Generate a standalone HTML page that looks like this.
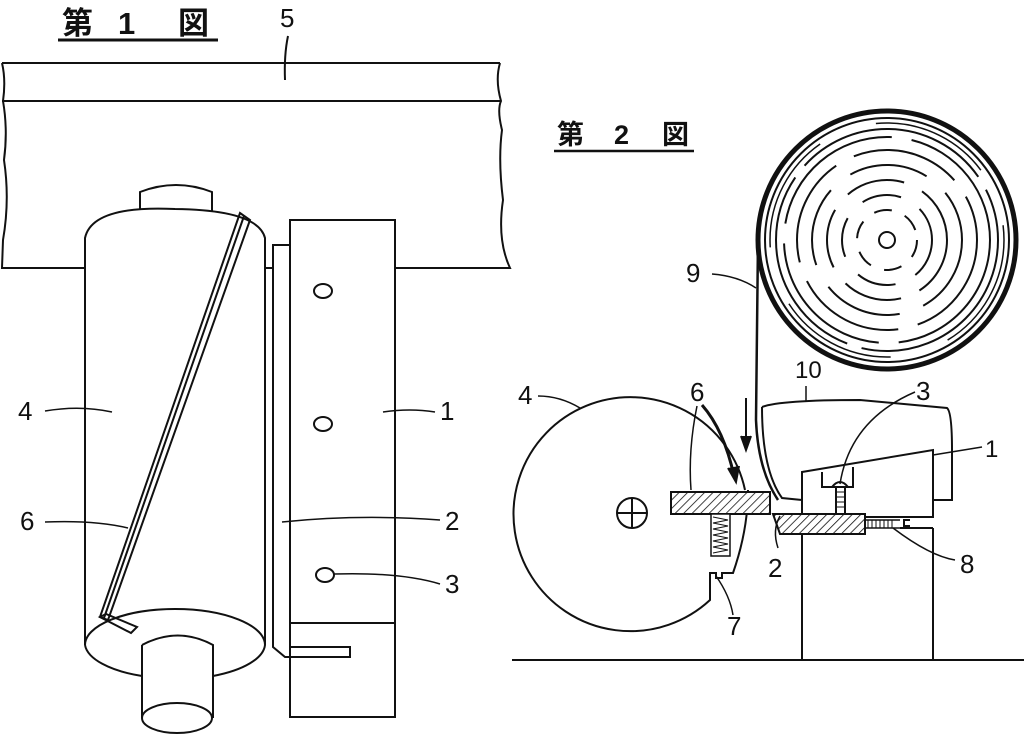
<!DOCTYPE html>
<html><head><meta charset="utf-8"><style>
html,body{margin:0;padding:0;background:#fff;}
svg{display:block;}
text{font-family:"Liberation Sans","Noto Sans CJK JP",sans-serif;fill:#111;}
</style></head><body>
<svg width="1024" height="735" viewBox="0 0 1024 735" xmlns="http://www.w3.org/2000/svg">
<defs>
<pattern id="h" width="6" height="6" patternUnits="userSpaceOnUse" patternTransform="rotate(45)">
<rect width="6" height="6" fill="#fff"/><line x1="0" y1="0" x2="0" y2="6" stroke="#111" stroke-width="1.6"/></pattern>
</defs>
<g fill="none" stroke="#111" stroke-width="2">
<!-- Fig 1 title -->
<text x="62" y="34" font-size="31" font-weight="bold" stroke="none">第</text>
<text x="118" y="34" font-size="31" font-weight="bold" stroke="none">1</text>
<text x="178" y="34" font-size="31" font-weight="bold" stroke="none">図</text>
<line x1="58" y1="40" x2="218" y2="40" stroke-width="3"/>
<text x="280" y="27" font-size="26" stroke="none">5</text>
<path d="M288 36 Q284 55 285 80"/>
<!-- beam -->
<path d="M2 63 H500 M2 101 H500"/>
<path d="M2 63 Q6 80 3 101 Q8 130 4 160 Q10 200 3 240 L2 268 H86 M265 268 H273 M395 268 H510 Q497 240 503 200 Q498 160 502 130 Q497 110 501 101 Q495 80 500 63"/>
<!-- cylinder -->
<path d="M140 210 V192 Q176 178 212 192 V212"/>
<path d="M85 645 V238 Q92 205 175 209 Q258 210 265 238 V645"/>
<path d="M85 645 A90 36 0 0 1 265 645 A90 36 0 0 1 213 676 M142 676 A90 36 0 0 1 85 645"/>
<path d="M142 645 Q178 626 213 645 V718 M142 645 V718"/>
<ellipse cx="177" cy="718" rx="35" ry="15"/>
<!-- strip 6 -->
<path d="M100 617 L240 213 L250 220 L108 620 Z M104 618 L244 216"/>
<path d="M100 617 L106 614 L137 627 L131 633 Z"/>
<!-- plate 2 -->
<path d="M290 245 H273 V647 L285 657 H350 V647 H290"/>
<!-- block 1 -->
<rect x="290" y="220" width="105" height="497"/>
<line x1="290" y1="623" x2="395" y2="623"/>
<ellipse cx="323" cy="291" rx="9" ry="7"/>
<ellipse cx="323" cy="424" rx="9" ry="7"/>
<ellipse cx="325" cy="575" rx="9" ry="7"/>
<!-- labels fig1 -->
<text x="18" y="420" font-size="26" stroke="none">4</text>
<path d="M45 411 Q80 405 112 412" stroke-width="1.5"/>
<text x="20" y="530" font-size="26" stroke="none">6</text>
<path d="M45 522 Q95 520 128 528" stroke-width="1.5"/>
<text x="440" y="420" font-size="26" stroke="none">1</text>
<path d="M383 412 Q410 408 435 412" stroke-width="1.5"/>
<text x="445" y="530" font-size="26" stroke="none">2</text>
<path d="M282 522 Q360 514 440 520" stroke-width="1.5"/>
<text x="445" y="593" font-size="26" stroke="none">3</text>
<path d="M334 574 Q400 572 440 584" stroke-width="1.5"/>

<!-- Fig 2 title -->
<text x="557" y="144" font-size="27" font-weight="bold" stroke="none">第</text>
<text x="614" y="144" font-size="27" font-weight="bold" stroke="none">2</text>
<text x="662" y="144" font-size="27" font-weight="bold" stroke="none">図</text>
<line x1="554" y1="151" x2="694" y2="151" stroke-width="2.5"/>
<!-- roll -->
<circle cx="887" cy="240" r="129" stroke-width="5"/>
<circle cx="887" cy="240" r="122" stroke-width="2"/>
<circle cx="887" cy="240" r="117" stroke-width="1.5" stroke-dasharray="120 60"/>
<circle cx="887" cy="240" r="8"/>
<g stroke-width="2">
<circle cx="887" cy="240" r="30" stroke-dasharray="18 14"/>
<circle cx="887" cy="240" r="45" stroke-dasharray="40 22"/>
<circle cx="887" cy="240" r="60" stroke-dasharray="60 20"/>
<circle cx="887" cy="240" r="75" stroke-dasharray="80 25"/>
<circle cx="887" cy="240" r="90" stroke-dasharray="110 20"/>
<circle cx="887" cy="240" r="103" stroke-dasharray="150 20"/>
<circle cx="887" cy="240" r="111" stroke-dasharray="200 15"/>
</g>
<!-- tape 9 -->
<path d="M758 240 L756 420 Q758 470 778 500" stroke-width="2.5"/>
<text x="686" y="282" font-size="26" stroke="none">9</text>
<path d="M712 274 Q738 276 756 288" stroke-width="1.5"/>
<!-- arrow -->
<path d="M746 398 V444"/>
<path d="M741 436 L746 450 L751 436" fill="#111"/>
<!-- disc 4 -->
<path d="M745 490 A117 117 0 1 0 710 600 V573 H716 V578 H722 V573 H733 Q748 530 748 490"/>
<circle cx="632" cy="513" r="15"/>
<path d="M632 498 V528 M617 513 H647"/>
<path d="M702 405 Q724 430 734 476" stroke-width="3"/>
<path d="M728 468 L736 482 L739 466" fill="#111"/>
<!-- blade 6 -->
<rect x="671" y="492" width="99" height="22" fill="url(#h)"/>
<!-- spring 7 -->
<rect x="711" y="514" width="19" height="42" fill="#fff" stroke-width="1.5"/>
<path d="M713 517 L728 520 L713 523 L728 526 L713 529 L728 532 L713 535 L728 538 L713 541 L728 544 L713 547 L728 550 L713 553" stroke-width="1"/>
<!-- block 10 -->
<path d="M762 407 Q780 400 860 400 L947 408 Q952 412 952 450 V500 H933 M762 407 Q762 470 782 498 L802 500"/>
<!-- block 1 -->
<path d="M802 513 V472 L933 450 V517 H865"/>
<path d="M822 472 V487 H853 V467"/>
<path d="M832 487 Q840 477 848 487 M836 487 V513 M845 487 V513"/>
<path d="M837 492 H845 M837 497 H845 M837 502 H845 M837 507 H845" stroke-width="1"/>
<!-- bar 2 -->
<path d="M773 514 H865 V534 H780 Z" fill="url(#h)"/>
<!-- spring 8 -->
<path d="M865 520 H900 M865 528 H900" stroke-width="1.5"/>
<path d="M868 520 V528 M872 520 V528 M876 520 V528 M880 520 V528 M884 520 V528 M888 520 V528 M892 520 V528" stroke-width="1"/>
<path d="M910 520 H904 V526 H910 M900 528 H933 M900 517 H933"/>
<!-- base -->
<path d="M802 534 V660 M933 528 V660"/>
<line x1="512" y1="660" x2="1024" y2="660"/>
<!-- labels fig2 -->
<text x="518" y="404" font-size="26" stroke="none">4</text>
<path d="M538 396 Q560 396 580 408" stroke-width="1.5"/>
<text x="690" y="401" font-size="26" stroke="none">6</text>
<path d="M697 406 Q688 450 691 490" stroke-width="1.5"/>
<text x="795" y="378" font-size="24" stroke="none">10</text>
<path d="M806 386 Q806 395 806 402" stroke-width="1.5"/>
<text x="916" y="400" font-size="26" stroke="none">3</text>
<path d="M915 392 Q850 420 840 484" stroke-width="1.5"/>
<text x="985" y="457" font-size="24" stroke="none">1</text>
<path d="M982 447 L933 455" stroke-width="1.5"/>
<text x="768" y="577" font-size="26" stroke="none">2</text>
<path d="M780 516 Q772 530 778 548" stroke-width="1.5"/>
<text x="960" y="573" font-size="26" stroke="none">8</text>
<path d="M893 528 Q930 556 955 560" stroke-width="1.5"/>
<text x="727" y="635" font-size="26" stroke="none">7</text>
<path d="M716 576 Q730 596 733 615" stroke-width="1.5"/>
</g>
</svg>
</body></html>
